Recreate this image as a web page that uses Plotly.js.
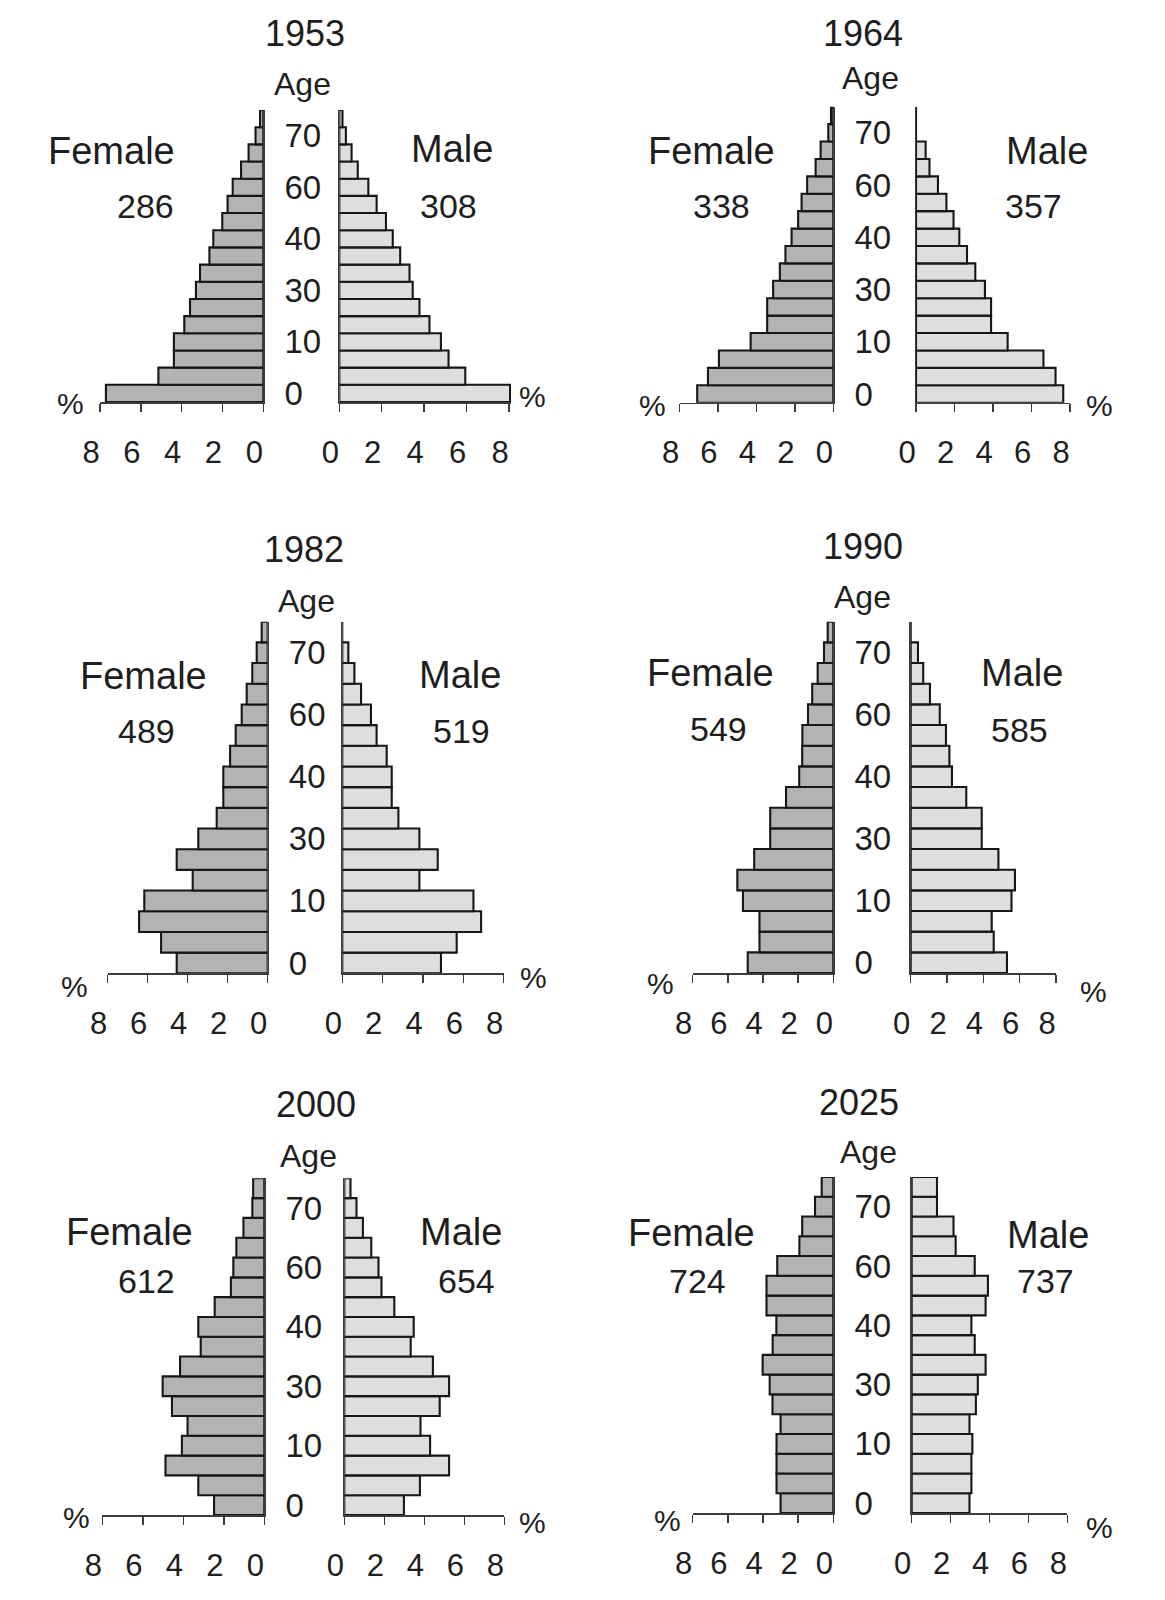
<!DOCTYPE html>
<html>
<head>
<meta charset="utf-8">
<script src="https://cdn.plot.ly/plotly-3.0.1.min.js"></script>
<style>html,body{margin:0;padding:0;background:#fff;}</style>
</head>
<body>
<div id="chart" style="width:1165px;height:1600px;"></div>
<script>
// ---------------- DATA ----------------
const years = ['1953', '1964', '1982', '1990', '2000', '2025'];
const ageGroups = ['0-4','5-9','10-14','15-19','20-24','25-29','30-34','35-39','40-44',
                   '45-49','50-54','55-59','60-64','65-69','70-74','75-79','80+'];
const ageTickText = ['0', '10', '30', '40', '60', '70'];
const pctTickText = ['0', '2', '4', '6', '8'];
const femaleTotals = [286, 338, 489, 549, 612, 724];
const maleTotals = [308, 357, 519, 585, 654, 737];

// share of population (%) per 5-year age group, youngest first
const female1953 = [7.71, 5.14, 4.38, 4.38, 3.87, 3.59, 3.30, 3.10, 2.64, 2.45, 2.01, 1.75, 1.50, 1.09, 0.72, 0.38, 0.16];
const male1953   = [8.05, 5.94, 5.15, 4.79, 4.25, 3.78, 3.46, 3.31, 2.87, 2.52, 2.20, 1.76, 1.37, 0.87, 0.58, 0.31, 0.15];
const female1964 = [7.08, 6.52, 5.95, 4.30, 3.44, 3.44, 3.13, 2.78, 2.49, 2.17, 1.83, 1.65, 1.36, 0.92, 0.66, 0.26, 0.12];
const male1964   = [7.65, 7.25, 6.62, 4.76, 3.90, 3.90, 3.58, 3.08, 2.65, 2.25, 1.95, 1.58, 1.14, 0.70, 0.50, 0, 0];
const female1982 = [4.55, 5.33, 6.43, 6.17, 3.75, 4.55, 3.47, 2.55, 2.22, 2.22, 1.88, 1.60, 1.30, 1.05, 0.77, 0.55, 0.30];
const male1982   = [4.89, 5.67, 6.88, 6.50, 3.82, 4.73, 3.82, 2.78, 2.45, 2.45, 2.20, 1.70, 1.42, 0.93, 0.60, 0.30, 0];
const female1990 = [4.87, 4.20, 4.20, 5.14, 5.46, 4.50, 3.59, 3.59, 2.69, 1.94, 1.77, 1.76, 1.44, 1.20, 0.89, 0.53, 0.32];
const male1990   = [5.30, 4.57, 4.46, 5.55, 5.74, 4.83, 3.91, 3.91, 3.06, 2.27, 2.13, 1.94, 1.60, 1.06, 0.69, 0.40, 0];
const female2000 = [2.48, 3.26, 4.88, 4.07, 3.79, 4.56, 5.02, 4.16, 3.14, 3.26, 2.45, 1.65, 1.53, 1.38, 1.03, 0.59, 0.55];
const male2000   = [2.98, 3.78, 5.24, 4.29, 3.81, 4.77, 5.24, 4.43, 3.32, 3.47, 2.50, 1.86, 1.71, 1.35, 0.93, 0.61, 0.31];
const female2025 = [3.00, 3.23, 3.23, 3.23, 3.00, 3.46, 3.62, 4.02, 3.45, 3.24, 3.80, 3.80, 3.19, 1.93, 1.77, 1.04, 0.66];
const male2025   = [2.97, 3.07, 3.07, 3.12, 2.97, 3.30, 3.40, 3.80, 3.24, 3.07, 3.80, 3.92, 3.24, 2.26, 2.15, 1.30, 1.30];

const femaleSeries = [female1953, female1964, female1982, female1990, female2000, female2025];
const maleSeries   = [male1953, male1964, male1982, male1990, male2000, male2025];

// ---------------- LAYOUT / STYLE ----------------
const W = 1165, H = 1600;
const FONT = '"Liberation Sans", Arial, Helvetica, sans-serif';
const TXT = '#1e1e1e';
const AXIS = '#3c3c3c';
const OUTLINE = '#161616';
const FEMALE_FILL = '#b3b3b3';
const MALE_FILL = '#dedede';
const px = v => v / W;
const py = v => 1 - v / H;

// pixel geometry of each pyramid: female axis 8 -> 0, male axis 0 -> 8, bar block top/bottom
const geo = [
  {f8: 100,   f0: 263.3, m0: 339.3, m8: 509,    mMax: 8.1, top: 110,   bot: 402},
  {f8: 679.5, f0: 833.3, m0: 916,   m8: 1070,   mMax: 8,   top: 106.7, bot: 402.7},
  {f8: 107.7, f0: 267.7, m0: 342.3, m8: 503.7,  mMax: 8,   top: 621.7, bot: 973.3},
  {f8: 692.7, f0: 833.3, m0: 910.7, m8: 1056,   mMax: 8,   top: 621.7, bot: 973},
  {f8: 102.3, f0: 264.3, m0: 344.3, m8: 504.3,  mMax: 8,   top: 1178.3, bot: 1515},
  {f8: 692.7, f0: 833.3, m0: 911.7, m8: 1067.3, mMax: 8,   top: 1177,  bot: 1513}
];
const txtPos = [
  {title:[305,34],  age:[302,84],  fem:[111,151], ft:[145,206], male:[452,149], mt:[448,206], pl:[70,403],  pr:[532,396]},
  {title:[863,33],  age:[870,78],  fem:[711,151], ft:[721,206], male:[1047,151], mt:[1033,206], pl:[652,405], pr:[1099,405]},
  {title:[304,549], age:[307,601], fem:[143,676], ft:[146,731], male:[460,675], mt:[461,731], pl:[74,986],  pr:[533,978]},
  {title:[863,546], age:[862,597], fem:[710,673], ft:[718,729], male:[1022,673], mt:[1019,730], pl:[660,983], pr:[1093,991]},
  {title:[316,1104],age:[308,1156],fem:[129,1232],ft:[146,1281],male:[461,1232], mt:[467,1281], pl:[76,1517], pr:[532,1522]},
  {title:[859,1102],age:[868,1152],fem:[691,1233],ft:[697,1281],male:[1048,1235], mt:[1045,1281], pl:[667,1520], pr:[1099,1527]}
];

const GROUP_SPAN = 5;
const ageCenters = ageGroups.map((g, i) => i * GROUP_SPAN + GROUP_SPAN / 2);
const yMax = ageGroups.length * GROUP_SPAN;
const ageTickVals = ageTickText.map((t, k) => ageCenters[k * 3]);
const pctTickVals = pctTickText.map(Number);

const traces = [];
const layout = {
  width: W, height: H,
  margin: {l: 0, r: 0, t: 0, b: 0},
  paper_bgcolor: '#ffffff',
  plot_bgcolor: 'rgba(0,0,0,0)',
  showlegend: false,
  font: {family: FONT, color: TXT},
  annotations: []
};

const key = (letter, n) => (n === 1 ? letter + 'axis' : letter + 'axis' + n);
const ref = (letter, n) => (n === 1 ? letter : letter + n);

function xAxisBase() {
  return {
    showline: true, linecolor: AXIS, linewidth: 1.5,
    ticks: 'outside', ticklen: 8, tickwidth: 1.5, tickcolor: AXIS,
    showgrid: false, zeroline: false, fixedrange: true,
    tickmode: 'array', tickvals: pctTickVals, ticktext: pctTickText,
    tickfont: {family: FONT, size: 31, color: TXT},
    ticklabelstandoff: 14
  };
}

function addText(text, pos, size) {
  layout.annotations.push({
    text: text, x: px(pos[0]), y: py(pos[1]), xref: 'paper', yref: 'paper',
    xanchor: 'center', yanchor: 'middle', showarrow: false,
    font: {family: FONT, size: size, color: TXT}
  });
}

geo.forEach((g, i) => {
  const nf = 2 * i + 1, nm = 2 * i + 2;
  traces.push({
    type: 'bar', orientation: 'h', x: femaleSeries[i], y: ageCenters, width: GROUP_SPAN,
    xaxis: ref('x', nf), yaxis: ref('y', nf), hoverinfo: 'skip',
    marker: {color: FEMALE_FILL, line: {color: OUTLINE, width: 2.1}}
  });
  traces.push({
    type: 'bar', orientation: 'h', x: maleSeries[i], y: ageCenters, width: GROUP_SPAN,
    xaxis: ref('x', nm), yaxis: ref('y', nm), hoverinfo: 'skip',
    marker: {color: MALE_FILL, line: {color: OUTLINE, width: 2.1}}
  });

  const yDom = [py(g.bot), py(g.top)];
  layout[key('x', nf)] = Object.assign(xAxisBase(), {
    domain: [px(g.f8), px(g.f0)], range: [8, 0], anchor: ref('y', nf), ticklabelshift: 9
  });
  layout[key('x', nm)] = Object.assign(xAxisBase(), {
    domain: [px(g.m0), px(g.m0 + (g.m8 - g.m0) * g.mMax / 8)], range: [0, g.mMax],
    anchor: ref('y', nm), ticklabelshift: -9
  });
  layout[key('y', nf)] = {
    domain: yDom, range: [0, yMax], anchor: ref('x', nf), side: 'right',
    showline: true, linecolor: AXIS, linewidth: 1.5, ticks: '', showgrid: false, zeroline: false,
    tickmode: 'array', tickvals: ageTickVals, ticktext: ageTickText,
    tickfont: {family: FONT, size: 33, color: TXT}, ticklabelstandoff: 13, fixedrange: true
  };
  layout[key('y', nm)] = {
    domain: yDom, range: [0, yMax], anchor: ref('x', nm), side: 'left',
    showline: true, linecolor: AXIS, linewidth: 1.5, ticks: '', showticklabels: false,
    showgrid: false, zeroline: false, fixedrange: true
  };

  const t = txtPos[i];
  addText(years[i], t.title, 36);
  addText('Age', t.age, 32);
  addText('Female', t.fem, 38);
  addText(String(femaleTotals[i]), t.ft, 34);
  addText('Male', t.male, 38);
  addText(String(maleTotals[i]), t.mt, 34);
  addText('%', t.pl, 30);
  addText('%', t.pr, 30);
});

Plotly.newPlot('chart', traces, layout, {staticPlot: true, displayModeBar: false});
</script>
</body>
</html>
